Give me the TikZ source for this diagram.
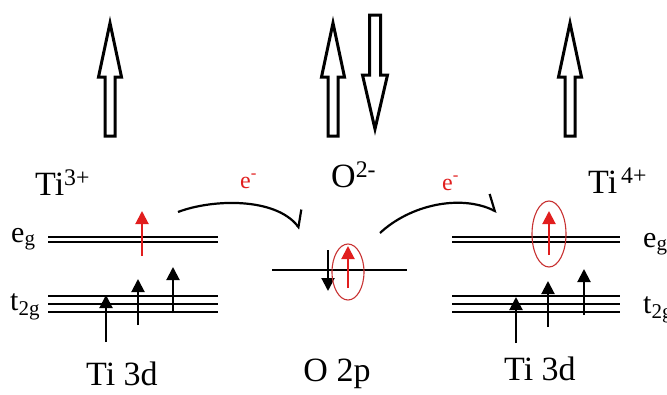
\documentclass[tikz,border=0pt]{standalone}
\usepackage{fontspec}
\setmainfont{Liberation Serif}
\usetikzlibrary{arrows.meta}
\definecolor{spinred}{RGB}{225,30,30}
\definecolor{ringred}{RGB}{200,50,50}
\begin{document}
\begin{tikzpicture}[x=1pt,y=-1pt,
    level/.style={line width=1.6pt},
    spin/.style={line width=2pt,-{Triangle[length=13pt,width=13pt]}},
    bigspin/.style={line width=3pt,fill=white},
    ring/.style={ringred,line width=1.1pt},
    hop/.style={line width=2.2pt,-{Straight Barb[harpoon,length=12pt,width=26pt]}},
    lbl/.style={inner sep=0pt,anchor=base,font=\fontsize{34}{40}\selectfont},
    orb/.style={inner sep=0pt,anchor=base west,font=\fontsize{30}{36}\selectfont},
    elec/.style={inner sep=0pt,anchor=base west,text=spinred,font=\fontsize{24}{28}\selectfont}
  ]
  \useasboundingbox (0,0) rectangle (667,394);

  % big moments
  \foreach \cx in {110,333,570}
    \draw[bigspin] (\cx-5,136) -- (\cx-5,77) -- (\cx-11.5,77) -- (\cx,23) -- (\cx+11.5,77) -- (\cx+5,77) -- (\cx+5,136) -- cycle;
  \draw[bigspin] (369.5,15) -- (369.5,75) -- (362.5,75) -- (375,129) -- (387.5,75) -- (380.5,75) -- (380.5,15) -- cycle;

  % ion labels
  \node[lbl,anchor=base west] (ti3) at (35,195) {Ti\textsuperscript{3+}};
  \node[lbl,anchor=base west] (o2) at (331,187) {O\textsuperscript{2-}};
  \node[lbl,anchor=base west] (ti4) at (588,193) {Ti\textsuperscript{\,4+}};
  \node[elec] (e1) at (240,188) {e\textsuperscript{-}};
  \node[elec] (e2) at (442,190) {e\textsuperscript{-}};

  % levels
  \foreach \y in {237,242} {
    \draw[level] (48,\y) -- (218,\y);
    \draw[level] (452,\y) -- (620,\y);
  }
  \foreach \y in {296,304,312} {
    \draw[level] (48,\y) -- (218,\y);
    \draw[level] (452,\y) -- (620,\y);
  }
  \draw[line width=1.2pt] (272,270) -- (407,270);

  \node[orb] (egl) at (11,242) {e\textsubscript{g}};
  \node[orb] (tgl) at (10,310) {t\textsubscript{2g}};
  \node[orb] (egr) at (643,247) {e\textsubscript{g}};
  \node[orb] (tgr) at (643,313) {t\textsubscript{2g}};

  % spins
  \draw[spin] (106,342) -- (106,295);
  \draw[spin] (138,325) -- (138,279);
  \draw[spin] (173,313) -- (173,267);
  \draw[spin] (516,343) -- (516,297);
  \draw[spin] (548,327) -- (548,281);
  \draw[spin] (584,315) -- (584,269);
  \draw[spin] (328,250) -- (328,291);
  \draw[spin,spinred] (142,256) -- (142,211);
  \draw[spin,spinred] (348,288) -- (348,246);
  \draw[spin,spinred] (549,255) -- (549,211);
  \draw[ring] (348,272) ellipse [x radius=16, y radius=28];
  \draw[ring] (549,234) ellipse [x radius=17, y radius=33];

  % hopping
  \coordinate (h1s) at (178,212);
  \coordinate (h1e) at (300,229);
  \coordinate (h2s) at (380,233);
  \coordinate (h2e) at (497,212);
  \draw[hop] (h1s) .. controls (212,199) and (275,197) .. (h1e);
  \draw[hop] (h2s) .. controls (410,205) and (460,194) .. (h2e);

  \node[lbl] (d3l) at (122,385) {Ti 3d};
  \node[lbl] (p2) at (337,381) {O 2p};
  \node[lbl] (d3r) at (540,380) {Ti 3d};
\end{tikzpicture}
\end{document}
